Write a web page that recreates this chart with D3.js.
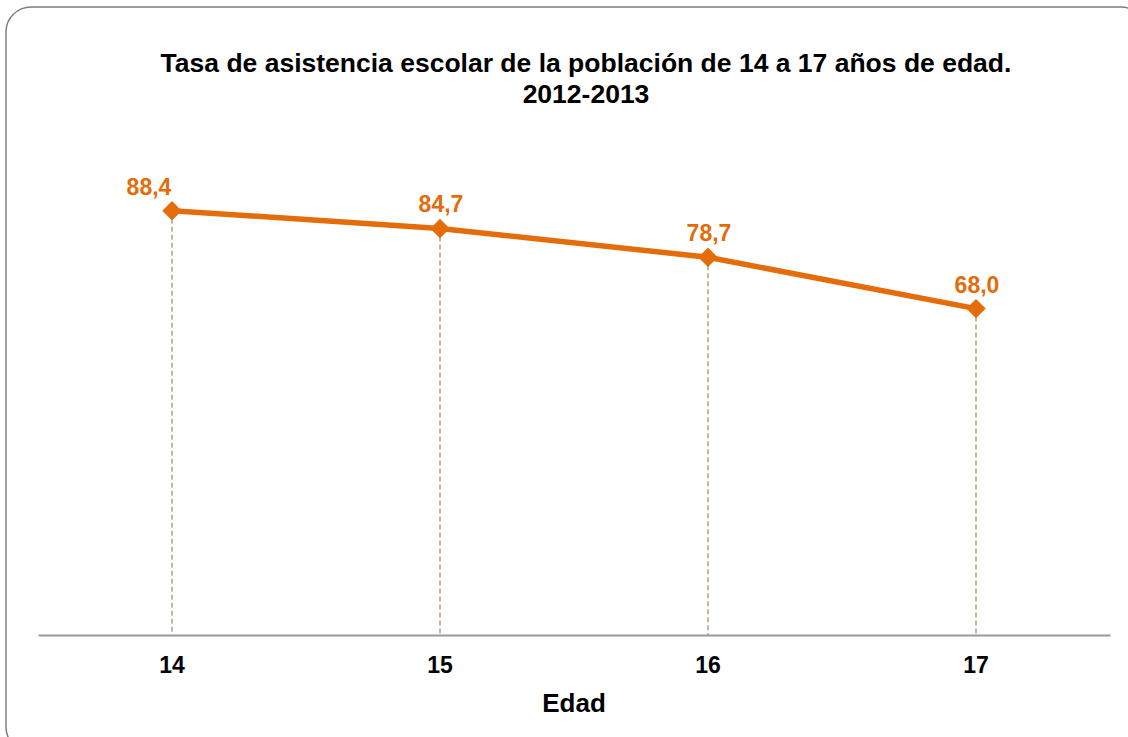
<!DOCTYPE html>
<html>
<head>
<meta charset="utf-8">
<script src="https://cdn.jsdelivr.net/npm/d3@7"></script>
<style>
  body { margin: 0; background: #fff; }
  text { font-family: "Liberation Sans", Arial, sans-serif; font-weight: bold; }
</style>
</head>
<body>
<div id="chart"></div>
<script>

// data
var edades = ["14", "15", "16", "17"];
var tasa = [88.4, 84.7, 78.7, 68.0];
var etiquetas = ["88,4", "84,7", "78,7", "68,0"];

var W = 1128, H = 737;
var margin = {top: 155, right: 18, bottom: 102, left: 38},
    width = W - margin.left - margin.right,
    height = H - margin.top - margin.bottom;

var svg = d3.select("#chart")
  .append("svg")
    .attr("width", W)
    .attr("height", H);

// outer frame
svg.append("rect")
    .attr("x", 6).attr("y", 7)
    .attr("width", 1140).attr("height", 745)
    .attr("rx", 25).attr("ry", 25)
    .attr("fill", "white")
    .attr("stroke", "#7f7f7f")
    .attr("stroke-width", 1.5);

// title
svg.append("text")
    .attr("x", 586).attr("y", 72)
    .attr("text-anchor", "middle")
    .style("font-size", "26.5px")
    .text("Tasa de asistencia escolar de la población de 14 a 17 años de edad.");
svg.append("text")
    .attr("x", 586).attr("y", 103)
    .attr("text-anchor", "middle")
    .style("font-size", "26.5px")
    .text("2012-2013");

var g = svg.append("g")
    .attr("transform", "translate(" + margin.left + "," + margin.top + ")");

var x = d3.scaleBand().domain(edades).range([0, width]);
var y = d3.scaleLinear().domain([0, 100]).range([height, 0]);

var data = edades.map(function(e, i) { return {edad: e, v: tasa[i], lab: etiquetas[i]}; });
var cx = function(d) { return x(d.edad) + x.bandwidth() / 2; };

// drop lines
g.selectAll(".drop")
  .data(data)
  .enter().append("line")
    .attr("x1", cx).attr("x2", cx)
    .attr("y1", function(d) { return y(d.v); })
    .attr("y2", height)
    .attr("stroke", "#9c8a55")
    .attr("stroke-width", 1.2)
    .attr("stroke-dasharray", "5,3");

// x axis
var xAxis = g.append("g")
    .attr("transform", "translate(0," + height + ")")
    .call(d3.axisBottom(x).tickSize(0).tickPadding(22));
xAxis.select(".domain").attr("stroke", "#999").attr("stroke-width", 2);
xAxis.selectAll("text")
    .style("font-size", "23px")
    .style("font-family", "'Liberation Sans', Arial, sans-serif")
    .style("font-weight", "bold")
    .attr("fill", "#000");

svg.append("text")
    .attr("x", 574).attr("y", 712)
    .attr("text-anchor", "middle")
    .style("font-size", "26px")
    .text("Edad");

// line
var line = d3.line()
    .x(cx)
    .y(function(d) { return y(d.v); });

g.append("path")
    .datum(data)
    .attr("d", line)
    .attr("fill", "none")
    .attr("stroke", "#e46c0a")
    .attr("stroke-width", 5.5);

// diamond markers
g.selectAll(".pt")
  .data(data)
  .enter().append("path")
    .attr("d", d3.symbol().type(d3.symbolDiamond2).size(240))
    .attr("transform", function(d) { return "translate(" + cx(d) + "," + y(d.v) + ")"; })
    .attr("fill", "#e46c0a");

// value labels
g.selectAll(".lab")
  .data(data)
  .enter().append("text")
    .attr("x", function(d, i) { return cx(d) + (i === 0 ? -23 : 1); })
    .attr("y", function(d) { return y(d.v) - 16; })
    .attr("text-anchor", "middle")
    .attr("fill", "#e46c0a")
    .style("font-size", "23px")
    .text(function(d) { return d.lab; });

</script>
</body>
</html>
